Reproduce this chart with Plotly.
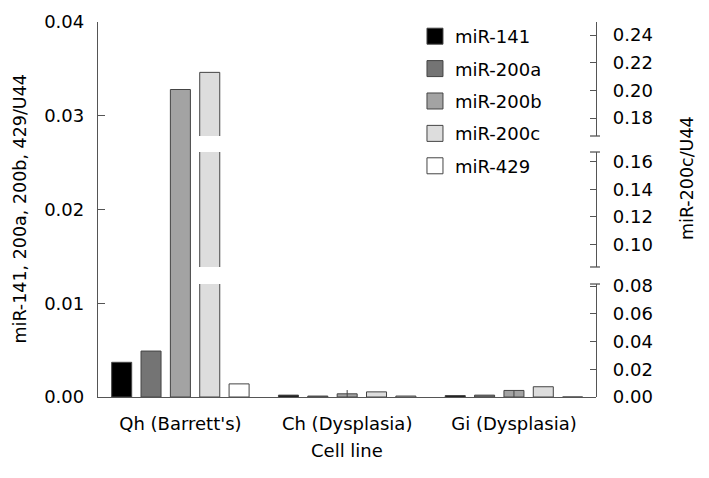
import plotly.graph_objects as go

# ---- data ----
cell_lines = ["Qh (Barrett's)", "Ch (Dysplasia)", "Gi (Dysplasia)"]
x_pos = [0, 1, 2]
mir141 = [0.0037, 0.0002, 0.00015]
mir200a = [0.0049, 0.0001, 0.0002]
mir200b = [0.0328, 0.00034, 0.0007]
mir200c = [0.213, 0.0037, 0.0074]     # right axis (miR-200c/U44)
mir429 = [0.0014, 0.0001, 0.0]
err200b_plus = [0.0, 0.0004, 0.0]
err200b_minus = [0.0, 0.0004, 0.0007]

left_ticks = [0.0, 0.01, 0.02, 0.03, 0.04]
right_ticks_low = [0.0, 0.02, 0.04, 0.06, 0.08]
right_ticks_mid = [0.10, 0.12, 0.14, 0.16]
right_ticks_top = [0.18, 0.20, 0.22, 0.24]

series_names = ["miR-141", "miR-200a", "miR-200b", "miR-200c", "miR-429"]
colors = ["#000000", "#747474", "#a3a3a3", "#dddddd", "#ffffff"]

FONT = "DejaVu Sans"
FS = 18
EDGE = "#444444"
AXC = "#555555"

W = 0.12
PITCH = 0.176


def off(i):
    return (i - 2) * PITCH - W / 2


fig = go.Figure()

left_series = [(0, mir141), (1, mir200a), (2, mir200b), (4, mir429)]
for i, vals in left_series:
    kw = {}
    if i == 2:
        kw["error_y"] = dict(type="data", symmetric=False, array=err200b_plus,
                             arrayminus=err200b_minus, color=EDGE, thickness=1, width=0)
    fig.add_trace(go.Bar(x=x_pos, y=vals, width=W, offset=off(i), xaxis="x", yaxis="y",
                         marker=dict(color=colors[i], line=dict(color=EDGE, width=1)),
                         showlegend=False, name=series_names[i], **kw))

for ya in ["y2", "y3", "y4"]:
    fig.add_trace(go.Bar(x=x_pos, y=mir200c, width=W, offset=off(3), xaxis="x", yaxis=ya,
                         marker=dict(color=colors[3], line=dict(color=EDGE, width=1)),
                         showlegend=False, name=series_names[3]))

# legend entries
for i, nm in enumerate(series_names):
    fig.add_trace(go.Scatter(x=[None], y=[None], mode="markers", name=nm,
                             legendgroup=nm,
                             marker=dict(symbol="square", size=16, color=colors[i],
                                         line=dict(color=EDGE, width=1))))

tickfont = dict(family=FONT, size=FS, color="black")

yright = dict(side="right", anchor="x", showline=True, linecolor=AXC, linewidth=1.3,
              ticks="inside", ticklen=6, tickcolor=AXC, tickformat=".2f",
              tickfont=tickfont, showgrid=False, zeroline=False, ticklabelstandoff=12)

fig.update_layout(
    width=709, height=478,
    margin=dict(l=98, r=113, t=22, b=81),
    paper_bgcolor="white", plot_bgcolor="rgba(0,0,0,0)",
    font=dict(family=FONT, size=FS, color="black"),
    xaxis=dict(range=[-0.494, 2.492], tickvals=x_pos, ticktext=cell_lines,
               showline=True, linecolor=AXC, linewidth=1.3, ticks="",
               tickfont=tickfont, showgrid=False, zeroline=False, ticklabelstandoff=10),
    yaxis=dict(range=[0, 0.04], tickvals=left_ticks, tickformat=".2f",
               showline=True, linecolor=AXC, linewidth=1.3, ticks="inside", ticklen=7,
               tickcolor=AXC, tickfont=tickfont, showgrid=False, zeroline=False,
               ticklabelstandoff=9),
    yaxis2=dict(domain=[0, 0.3013], range=[0, 0.0815], tickvals=right_ticks_low, **yright),
    yaxis3=dict(domain=[0.3467, 0.6533], range=[0.0837, 0.167], tickvals=right_ticks_mid, **yright),
    yaxis4=dict(domain=[0.6960, 1.0], range=[0.167, 0.2494], tickvals=right_ticks_top, **yright),
    legend=dict(x=0.6365, y=1.0107, xanchor="left", yanchor="top", bgcolor="rgba(0,0,0,0)",
                font=dict(family=FONT, size=FS), tracegroupgap=6, itemsizing="trace"),
    showlegend=True,
    annotations=[
        dict(text="miR-141, 200a, 200b, 429/U44", xref="paper", yref="paper",
             x=-0.1586, y=0.5, xanchor="center", yanchor="middle", textangle=-90,
             showarrow=False, font=dict(family=FONT, size=17.5)),
        dict(text="miR-200c/U44", xref="paper", yref="paper",
             x=1.1827, y=0.584, xanchor="center", yanchor="middle", textangle=-90,
             showarrow=False, font=dict(family=FONT, size=17.5)),
        dict(text="Cell line", xref="paper", yref="paper",
             x=0.5, y=-0.143, xanchor="center", yanchor="middle",
             showarrow=False, font=dict(family=FONT, size=FS)),
    ],
)

# small caps at ends of the broken right-axis segments
caps = [("y2 domain", 1.0), ("y3 domain", 0.0), ("y3 domain", 1.0), ("y4 domain", 0.0)]
for yref, yv in caps:
    fig.add_shape(type="line", xref="paper", yref=yref, x0=0.988, x1=1.008, y0=yv, y1=yv,
                  line=dict(color=AXC, width=1.3))

fig.write_html("out.html", config={"displayModeBar": False},
               post_script="document.body.style.margin='0';")
